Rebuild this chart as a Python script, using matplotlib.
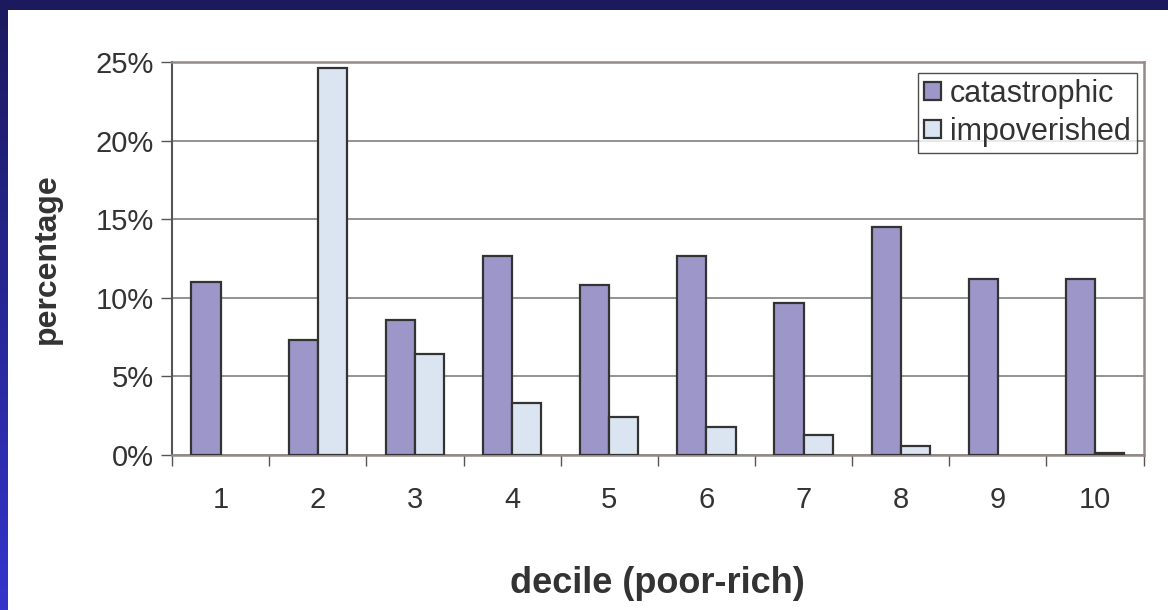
import numpy as np
import matplotlib.pyplot as plt
from matplotlib.ticker import PercentFormatter, FixedLocator
from matplotlib.colors import LinearSegmentedColormap

plt.rcParams['font.family'] = ['Liberation Sans', 'DejaVu Sans']

# deciles and the two series (fractions)
deciles = ['1', '2', '3', '4', '5', '6', '7', '8', '9', '10']
catastrophic = [0.110, 0.073, 0.086, 0.1265, 0.108, 0.1265, 0.097, 0.145, 0.112, 0.112]
impoverished = [0.0, 0.246, 0.064, 0.033, 0.024, 0.018, 0.013, 0.0055, 0.0, 0.0015]

cat_color = '#9d96c8'
imp_color = '#dbe5f1'
edge = '#333333'
text_col = '#333333'

fig = plt.figure(figsize=(11.68, 6.10), dpi=100)
fig.patch.set_facecolor('white')

# slide frame: dark top band and a blue gradient strip down the left
bg = fig.add_axes([0, 0, 1, 1], zorder=-10)
bg.set_axis_off()
bg.add_patch(plt.Rectangle((0, 0), 1168, 10, color='#1b1a5e', lw=0))
grad = np.linspace(0, 1, 256).reshape(-1, 1)
cm = LinearSegmentedColormap.from_list('frame', ['#1b1a5e', '#3434cc'])
bg.imshow(grad, cmap=cm, extent=(0, 8, 610, 0), aspect='auto')
bg.set_xlim(0, 1168)
bg.set_ylim(610, 0)

ax = fig.add_axes([0.1473, 0.2541, 0.8318, 0.6443])
x = np.arange(1, len(deciles) + 1)
w = 0.3
ax.bar(x - w / 2, catastrophic, w, color=cat_color, edgecolor=edge, linewidth=1.6,
       label='catastrophic', zorder=3)
# empty bars get no outline so nothing shows on the baseline
imp_edges = [edge if v > 0 else 'none' for v in impoverished]
ax.bar(x + w / 2, impoverished, w, color=imp_color, edgecolor=imp_edges, linewidth=1.6,
       label='impoverished', zorder=3)

ax.set_xlim(0.5, len(deciles) + 0.5)
ax.set_ylim(0, 0.25)
ax.set_yticks(np.arange(0, 0.2501, 0.05))
ax.yaxis.set_major_formatter(PercentFormatter(1.0, decimals=0))
ax.set_xticks(x)
ax.set_xticklabels(deciles)
ax.xaxis.set_minor_locator(FixedLocator(np.arange(0.5, len(deciles) + 1, 1)))
ax.tick_params(axis='x', which='major', length=0, pad=22, labelsize=21, labelcolor=text_col)
ax.tick_params(axis='x', which='minor', length=8, width=1, color='#555555', direction='out')
ax.tick_params(axis='y', length=8, width=1, color='#555555', labelsize=21,
               labelcolor=text_col, pad=5)

ax.grid(axis='y', color='#808080', linewidth=1.2, zorder=0)
ax.set_axisbelow(True)
for side in ['top', 'right', 'bottom']:
    ax.spines[side].set_color('#958a87')
    ax.spines[side].set_linewidth(1.8)
ax.spines['left'].set_color('#555555')
ax.spines['left'].set_linewidth(1.5)

ax.set_xlabel('decile (poor-rich)', fontsize=26, fontweight='bold', color=text_col, labelpad=38)
ax.set_ylabel('percentage', fontsize=23, fontweight='bold', color=text_col, labelpad=24)

leg = ax.legend(loc='upper right', bbox_to_anchor=(0.9933, 0.972), borderaxespad=0,
                fontsize=22, frameon=True, fancybox=False, handlelength=0.55,
                handleheight=0.55, handletextpad=0.3, borderpad=0.2, labelspacing=0.25)
leg.get_frame().set_edgecolor('#222222')
leg.get_frame().set_linewidth(1.0)
leg.legend_handles[1].set_edgecolor(edge)
for t in leg.get_texts():
    t.set_color(text_col)
leg.set_zorder(5)

fig.savefig('out.png', dpi=100)
